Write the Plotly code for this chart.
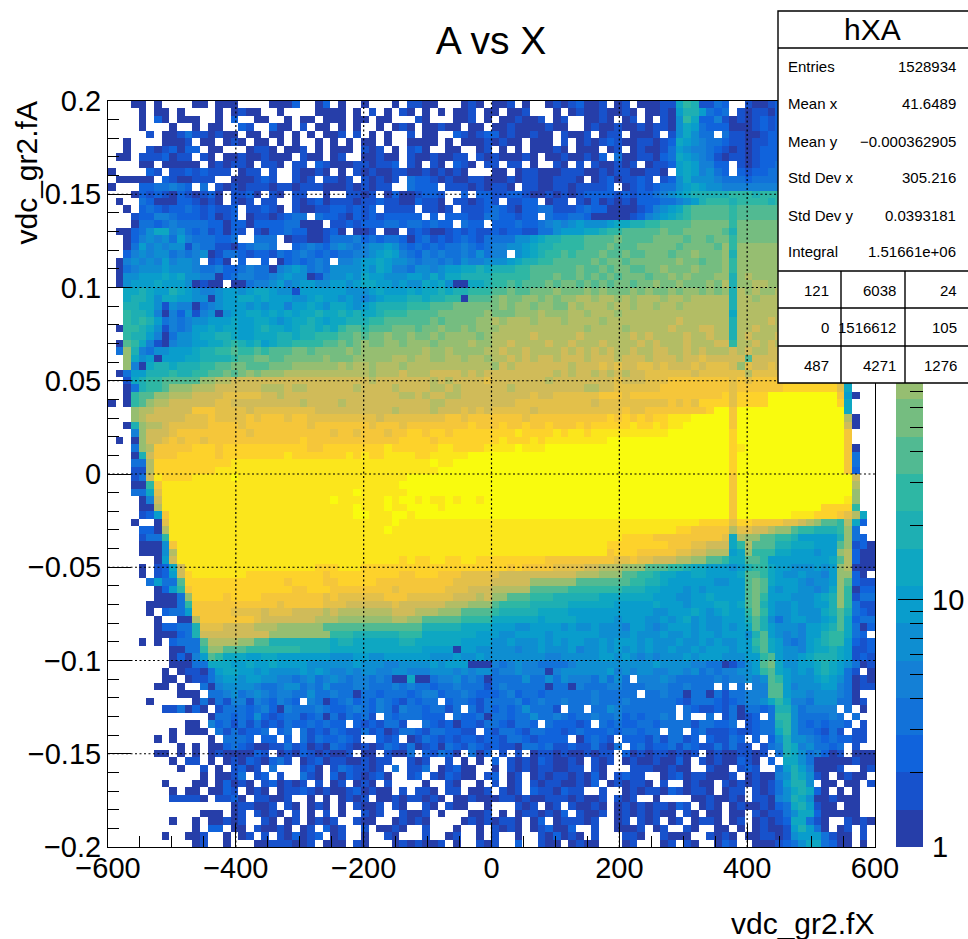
import plotly.graph_objects as go

# ---- data: 100 x 100 bins of hXA, top row first. Each character is a colour
# contour of the log-scale palette; "." is an empty bin.
LEVEL_CHARS = "0123456789a~bcdefghj"
ROWS = [
"...00.0... .00.000... .0002..02. 0..0...0.1 100...010. 001.0..010 12001.01.0 0011798113 2..1001222 2222222222",
"....0.00.0 ....0.0100 ..0....000 0.0.1.0.10 .0.0.001.0 0.001...0. 010010010. 0010688632 3.10110222 2222222222",
"....0.20.0 00..0.2..0 0..0.00.00 0.00.00... 10...001.0 .001001.01 ..0010.01. 0.10597224 1010121222 2222222222",
"....0...0. .0.00..21. .200.1.00. 0.0..0.010 .00100.00. 0010000100 ..01001001 0110576322 2000121222 2222222222",
".....1.001 3110100.00 .00.0.0.00 1.1.0.0..1 .00..21012 20100100.1 001.011.00 01.157533. 3110012222 2222222222",
"..0....000 1.00.010.0 0.0.0..0.0 .0.00.0..0 000.0.0001 0100.000.1 .010121001 1012765433 2110112222 2222222222",
"..0..10120 22.00...01 10.001.0.0 00.101.0.1 20..00..01 .0.0.00010 .000.01.01 0013654432 1010122222 2222222222",
".00.111201 1.10.00100 1000.100.0 1..00100.1 0010011.10 100010.001 00102.3001 1023765431 0110122233 3333333333",
"....00.000 00.010110. 110.11.210 00110112.1 0.10.210.1 1.11.0..10 .1.100101. 0112676442 2.10122333 3333333333",
"0....21.11 212111.011 .1..10010. 0.10100110 0101010... 00.0110001 1100101100 110.676453 2.21223333 4444444444",
".00000.210 0111..0001 21..101.11 01.10101.3 2210100110 0010110011 10.0120112 1.12575554 3332333333 4444444444",
"0...223343 2.3.101011 1011011100 0101011..3 222.111010 110.110011 011112.012 1233567655 4444444444 4444444444",
"...0212102 10120.1120 .10.11..0. .1101.0200 1221..2.22 1122100101 0122221212 2345678888 8999899999 9999999999",
".0..320002 21010.101. 11..101201 1101121100 2110.11012 1.1122.011 .102010102 2233456899 9899998999 9999999999",
"..0.232122 3212112.11 210.100112 21212.1111 .1101.1112 3210223311 1232200001 245679aaaa a9aaaaaaaa aaaaaaaaaa",
"...1224432 2212012.01 101233.322 1021212222 2.2.222113 322122.322 3320000012 456789aaaa a9aaaaaaaa aaaaaaaaaa",
"...0332343 3332202202 22233000.1 1212223323 32322.322. 2223223454 5655567788 99aaaa~~~~ ~9~~~~~~~~ ~~~~~~~~~~",
".002357745 32312021.1 0223220012 0.001.00.1 2100121211 2122113356 6677899aaa aa~aa~~~~~ a8~~~~~~~~ bbbbbbbbbb",
"..02454536 4333223..3 33.0110013 3342323320 2312123213 3335567889 99aaaa~aaa a~~~~a~~a~ ~9~~~~~~~~ bbbbbbbbbb",
"..03645455 1433110234 43..234324 5434556532 3232334323 4455678899 99aaa~aaa~ ~~~~a~~~~a b9bbbbbbbb bbbbbbbbbb",
"..24545534 3450133212 2132343232 3344567643 2434334353 44.567899a 9aaa~aa~aa ~~~a~~b~~~ b8bbbbbbbb bbbbbbbbbb",
".045454645 54.120.2.. 2.0232343. 4456676554 3443435445 55678899aa aaa~a~~a~~ ~~~~b~~a~~ b9bbbbbbbb bbbbbbbbbb",
".034555655 5433422343 3045653435 5556576443 5545667787 88899aaaaa a~aa~a~~aa ~~b~~~b~~~ b9bbbbbbbb bbbbbbbbbb",
".055666767 5544023443 3456550145 5657665556 6575778888 99999aaa~a a~a~a~a~~~ a~~b~b~~~b b8bcbbbbbb bbbbbbbbbb",
".056667666 50100.0034 4564566556 6567766565 5767500778 99a9aaa~a~ ~a~a~a~~a~ ~b~~b~~~b~ c8bbccbbbb bbbbbbbbbb",
"..77876687 6544566567 7655166666 6555676667 6778788999 aa~aa~~~b~ ~~b~b~~~b~ b~~b~bb~b~ b8cbcbbcbb bbbbbbbbbb",
"..78875776 6550566776 7666556766 5654567778 8788990aaa ~b~~bb~b~b bccbccbcbc ccbccbcccc c8ccbccccc cccccccccc",
"..88775154 4034566656 5664667657 7656788889 99aaa~~~~~ ~b~bb~bb~~ cbcccbccbc cbccbccccc c8cccccccc cccccccccc",
"..98874042 5145056677 6767677877 8787789 99a aaa~~~~~~b ~~~bbbcbbb ccbcccbccc cccccccccc c7cccccccc cccccccccc",
"..98986343 4556667667 7656778767 7888 99aaaa aa~a~ ~~~bb cbcccbcccb ccccbccccc ccccdccccc c8ccccdccc cccccccccc",
".099875143 4667677667 8776788787 9aa9aaa~~~ a~~b~~b~bb bccccccccc ccbccccbcc cccdcccddc c8ccdccccc cccccccccc",
"..98864035 5677887667 7788788999 aa~a~ ~b~~b ~~b~bbbb~b ccccc dcccc cdccccccdc dccccdccdc c8cdcccdcc cccccccccc",
".0a9741045 5667789878 6788999 9aa ~a~b~~bb~b bb~bbbbcbb ccdccccdcc dcccdccccd cdcccdcccd d9ccdcdccc cccccccccc",
".3b8435566 6788 99a99a 9aaa~~a~~~ ~b~bbbbbbb bcbbcbbbbc cdccdccccd cdcdcdccdc cddccdcdcc cdcdccddcd dacdcddddd dddddddddd",
"..b7560666 7788889aa~ ~aa~~~~~b~ ~~ bbbbb ccbcc bbccbccbcc dcdcddcddd cdddcdddcd ddcddedddd dadddddedd dddddddddd",
"..b4078878 8899aa~~aa a~~~bbbbbb cbccbcccbc ccccccccccb dcdd dddddc dddededdee dedddedeee dbeddedeee dddddddddd",
".036688898 899aa~a~ b~ bbbccccccccc ccbcccdccc ddddcdcddd ddddddcdcd dcdcdcddee eeeedeeeee eceeeeeefe dddddddddd",
"..17899aaa aabbccdddd dddddddddd ddddcddddd ddcdcdddde dddddddcdd ddddddeddd eeefffffff fefeffffff fffffd7...",
"..03899abb bcccdddddd cccdccdddd ddcddddcdd ddccdcdddd ddcddddddd ddccddeeee eeffffffff feffffffgg ggggge7...",
"..09aabbcc cddddeeeee ddcddddddd ddddddddcc dcddccd ddd dddddeddee eeeefffeff ffffffffff geggggjjjj jjjjjf60..",
"0.09abccdd ddddeedddd dddddcdddd cddddddddd ddccdddddd dddeeeeeee eeedeeeeee eeefefeggg geggggjjjj jjjjjg7...",
"...bccdddd dfffeeeede eeeeeeeddd dddddddcdd ddcdddedede eeeedeee ee eeeeeefee ffffffffgj jfjjjjjjjj jjjjjj7...",
"...bcddddd eeefeeeefe fffeffeeee eeeeedeeee eeeeffefff ffffefffff fffffgfgfg fgghhhjjjj jfjjjjjjjj jjjjjjc0..",
"..08bccdee eeeffffeff ffffffefff ffffefffef fffffffgff fgffgffgff fgfggggghg ghghhjjjjj jfjjjjjjjj jjjjjjd0..",
"...4bdddef ffffffffef fffffffffe ffefffeffg gfggfggggg ggghgggghg hhghhhhhhh hhhjjjjjjj jgjjjjjjjj jjjjjjf...",
".0.0bddefe ffefffffff fffffgffff ffffffffgg ggfggggggg ghggghghhh hhhhhjjjjj jjjjjjjjjj jgjjjjjjjj jjjjjjf...",
"...3bcffff fgggfggggg ggggggffgg gggggghggg ggghhggggh hhhjhhhjjj jjjjjjjjjj jjjjjjjjjj jghjjjjjjj jjjjjjf0..",
"...08dfffg ggggfggggg ggghgggggg ghghgghhhh gghhhhhjjj jjjjjjjjjj jjjjjjjjjj jjjjjjjjjj jgjjjjjjjj jjjjjjf3..",
"...33cgggg gggggghhhh hhhhhhhhhh hhhhhhhhhh hhjhhjjjjj jjjjjjjjjj jjjjjjjjjj jjjjjjjjjj jgjjjjjjjj jjjjjjf3..",
"...11cgggg gggghhhhhh hhhhhhhhhh hhhhhhhhhh hhhjjjjjjj jjjjjjjjjj jjjjjjjjjj jjjjjjjjjj jgjjjjjjjj jjjjjjf2..",
"...13dhggg ghhhhhjhhh hhhhhhhhhh hhhhhhhhhj jjjjjjjjjj jjjjjjjjjj jjjjjjjjjj jjjjjjjjjj jfjjjjjjjj jjjjjjjd..",
"...009fhhh hhhhhhhhhh hhhhhhhhhh hhhhhhhhjj jjjjjjjjjj jjjjjjjjjj jjjjjjjjjj jjjjjjjjjj jfjjjjjjjj jjjjjjjc..",
"...337ehhh hhhhhhhhhh hhhhhhhhhh hhjhhhhhhj jjjjjjjjjj jjjjjjjjjj jjjjjjjjjj jjjjjjjjjj jfjjjjjjjj jjjjjjjb..",
"....04dhhh hhhhhhhhhh hhhhhhhhhj hhhhhhjhjj hjhhjhjjhj jjjjjjjjjj jjjjjjjjjj jjjjjjjjjj jfjjjjjjjj jjjjjjhb..",
"....00chhh hhhhhhhhhh hhhhhhhhhh hhjhhhjhhj jjjhjjjjjj jjjjjjjjjj jjjjjjjjjj jjjjjjjjjj jfjjjjjjjj jjjgggg9..",
"....126fhh hhhhhhhhhh hhhhhhhhhh hhjjhhhjjh jjjjjjjjjj jjjjjjjjjj jjjjjjjjjj jjjjjjjjjj jfjjjjjjjh hhgggfec7.",
"...0..0ehh hhhhhhhhhh hhhhhhhhhh hhhhhhhjhh hhhhhhhhhh hhhhhhhhhh hhhhhhhhhh hhhhhhhggg geggffffee dcbaa9c72.",
"....220chh hhhhhhhhhh hhhhhhhhhh hhhhhhjhhh hhhhhhhhhh hhhhhhhhhh hhhhhhhhhh hhhhggffff fceeddcbba 998889b3..",
"....1339hh hhhhhhhhhh hhhhhhhhhh hhhhhhhhhh hhhhhhhhhh hhhhhhhhhh hhhhhhhggg gfffffffff e7cbbaa998 666668b32.",
"....0005fh hhhhhhhhhh hhhhhhhhhh hhhhhhhhhh hhhhhhhhhh hhhhhhhhhh hhhhhggggg gggfffeedd d79caaa887 77666ab120",
"....0005ch hhhhhhhhhh hhhhhhhhhh hhhhhhhhhh hhhhhhhhhh hhhhhhhhhh hhhhhfgggf ffffeeddcc c67b999776 66566bc200",
"......06dh hhhhhhhhhh hhhhhhhhhh hhhhhhhhgh gghhgghhgg gggggggfff ffffffeefe edddccbbaa 977aa96666 66667ac200",
"....0.127d hhhhhhhhhh hhhhhhhggg hhhggggggg gggggggggg ggfgffffee eeddcccbbb aaa9987766 6568997665 55656bc000",
"....0.126d ghhhhhhhgg ggggggggfg ggggggggff gggfffeeee eddddddddd dcccbbbaa9 9877667766 667aa97655 65546bb20.",
".....3633a gggggggggg gggfggggff gggggfffff fffffeeeee dddddbbbbb baaaaaaa99 8876666665 566a~a7666 54556ba211",
"......0269 fggggggggg ggggffgggf fffffffeff ffffeeeddd cccccaaaaa 9999999888 7766656566 666a~a6566 55457b9022",
"......0003 bggggfgggg ffffffffef eeeeeefffe eeeeedddcd bbaaa99988 8888777777 7666556676 666a~96665 55678b9133",
".....00003 9fffffffff ffefffffee eddddddedd ddddcccbbb a999988888 7777776666 6766656667 767a~86556 55668b9311",
".....0.233 6fffffeeee deeeddddcd cccccccddd cccbbbaaaa 9888887777 6666666666 6556667656 7669~96556 55578a8321",
"......0..0 0cfffffffe dddddddccc bbbbbbbccb baaaaa9999 7777776777 7666665666 5565675655 6668a85356 65567a7233",
"......0223 38eeeddddc ccbbbbbbaa aaaaaaaaaa a888887777 6665566665 6556555466 5456665655 6567a86555 46678a7302",
"......0002 38dddddddd dbbbbbbbb9 9988888899 9777777766 6556666566 6666555565 5565565665 66658a6545 466899732.",
"....0.0.23 33accccbba a888888887 8877777788 7777776666 5565556565 6655656665 6555655656 55669a7643 4678996212",
"........00 339bbaaa99 9999988887 7777777777 7666606655 5554556555 6455656565 6556556566 65668a7655 4677876112",
"........02 046a977766 7766666665 5566556666 6655565565 5555555445 5555665654 5455565666 555669a655 6788876121",
"........00 0337776676 6766665555 5565554455 5565666000 4345443333 4555555555 5655554433 01356a~755 6678765301",
".......0.0 1103677665 6555565654 4545544554 4455545455 3445444045 5555564545 5445545343 4455 69a765 65787631.0",
".......00. 0113566566 5544345345 4344343007 0034453430 3333533535 44435353.4 4454333334 3445 45a965 5567653010",
"......00.0 ..30455554 3345534353 3344333434 3323343331 3433333033 0433344333 444334333. 3.3.44aa64 5556643011",
".........0 00.3345345 4344335334 3303323332 3442334322 2342332333 333433333. 3343303303 1334 44aa65 54555430..",
".....0.... .030314414 32432.4302 3423243213 233.233213 3334234334 3334333433 3333213332 1234457974 435553301.",
".......113 020.133323 4204333432 2343243143 323313.313 232353331. 33.3354333 3333.32112 1303323885 34444.3.0.",
"..........  ...0332325 2123312303 13231.3233 3222.32230 3323353343 2334334232 3343.3..3. 1301 2.3995 333343.3..",
".......... 00.4231313 1213223232 2.2121331. .321202213 321332.322 212.323223 3233331332 23.1233895 3232332.1.",
"........0. 000.313122 3.23.31213 2113120133 21332211.2 1332133221 2322232332 33.33.2311 1211233795 332131.11.",
"......0.0. ...0.3332. 22.2.31322 321..212.0 1321212212 2133212222 .02321.222 1313312.21 132.2.2585 543232211.",
".........0 .0.0023210 0113120103 2101013213 0120321321 2110332311 2113103.23 1223132113 1311.13487 453323.1..",
"......00.0 .0.0100002 1.01021010 01.00.1003 .21320.302 .1.1.01101 001011.201 0110101.01 001101.387 534201.000",
"........0. 11.0.01021 0231.01201 1001011..1 01..1.0.0. 2.10102100 10.101.010 010020.101 00210.2.77 5300000100",
".........0 ..1.0.1201 .3...120.1 321101.3.1 13.01200.. 0.10101100 11.10...11 100100..10 0.121..368 640001..01",
".......... ..0.0013.1 2.1..310.2 0210120..1 2.102100.1 2.01.01011 01020.1211 ..01201100 01.0100458 7510.0100.",
".......0.. .00.02010. 120101.1.0 1.010.1... .0..10..0. 1.01.10110 0102.01011 0.1..0100. 1010101368 85.00.00.1",
"........0. 00.0021.01 0.01121010 0120100.1. 110.11.001 .101.21102 11..1..010 110210110. 011.101357 8720.0.0..",
"........11 110.1120.1 1001..0.0. 0101.00101 1010.00100 0110100111 01001.101. .0....0010 010.110458 75001000..",
".......... ......0110 01.10.010. 0.1001.10. .10.100..0 ...101.01. 10010.0101 011021.010 .010010237 86100.00..",
".......... ..000.01.1 010.1.0.1. 0..101..10 01.0...001 .0.0110102 .1001.0101 0100.10.00 .00.101135 77200000..",
"........0. .0.00101.. 10.01.0101 ..100..010 10....0101 0110.02.01 1101..01.1 01.01.0110 .01.010127 7310..1010",
".......... .0.22.00.1 0010.01.20 1..1.0010. .1...0..0. 1010.01200 2..1..0001 .01..10..0 0.0.010016 8630.01.1.",
".......0.. 001..0.01. 1.102012.0 1..0..10.. .1..01..0. 1..0..1020 10.1...110 ..1000..10 10.0011015 6663100.1.",
".......... .01..0...0 0111001.00 0.10...010 1001.0..10 1..2..100. 0100...01. ..01.10..0 21..000123 5773200.0.",
]

X_TICKS = [-600, -400, -200, 0, 200, 400, 600]
X_LABELS = ["\u2212600", "\u2212400", "\u2212200", "0", "200", "400", "600"]
Y_TICKS = [-0.2, -0.15, -0.1, -0.05, 0, 0.05, 0.1, 0.15, 0.2]
Y_LABELS = ["\u22120.2", "\u22120.15", "\u22120.1", "\u22120.05", "0", "0.05", "0.1", "0.15", "0.2"]
X_GRID = [-400, -200, 0, 200, 400]
Y_GRID = [-0.15, -0.1, -0.05, 0, 0.05, 0.1, 0.15]
Z_TICKS = [1, 10]
Z_LABELS = ["1", "10"]
STATS_NAMES = ["Entries", "Mean x", "Mean y", "Std Dev x", "Std Dev y", "Integral"]
STATS_VALUES = ["1528934", "41.6489", "\u22120.000362905", "305.216", "0.0393181", "1.51661e+06"]
CORNER_TABLE = [["121", "6038", "24"], ["0", "1516612", "105"], ["487", "4271", "1276"]]

# kBird palette stops of ROOT
BIRD_R = [0.2082, 0.0592, 0.0780, 0.0232, 0.1802, 0.5301, 0.8186, 0.9956, 0.9764]
BIRD_G = [0.1664, 0.3599, 0.5041, 0.6419, 0.7178, 0.7492, 0.7328, 0.7862, 0.9832]
BIRD_B = [0.5293, 0.8684, 0.8385, 0.7914, 0.6425, 0.4662, 0.3499, 0.1968, 0.0539]
N_LEVELS = 20
LOG_MAX = 3.02

W, H = 968, 939
L, R, T, B = 108, 875, 101, 847


def bird(f):
    p = min(f, 1.0) * 8
    i = min(int(p), 7)
    t = p - i
    ch = [a[i] + (a[i + 1] - a[i]) * t for a in (BIRD_R, BIRD_G, BIRD_B)]
    return "rgb(%d,%d,%d)" % tuple(round(255 * c) for c in ch)


colors = [bird((i + 0.99) / N_LEVELS) for i in range(N_LEVELS)]
colorscale = []
for i, c in enumerate(colors):
    colorscale += [[i / N_LEVELS, c], [(i + 1) / N_LEVELS, c]]

step = LOG_MAX / N_LEVELS
z = []
for row in reversed(ROWS):
    cells = row.replace(" ", "").ljust(100, ".")[:100]
    z.append([None if ch == "." else (LEVEL_CHARS.index(ch) + 0.5) * step for ch in cells])

fig = go.Figure()
fig.add_trace(go.Heatmap(
    z=z, x0=-594, dx=12, y0=-0.198, dy=0.004,
    zmin=0, zmax=LOG_MAX, colorscale=colorscale, hoverongaps=False, showscale=False,
))
# colour scale drawn as its own one-column histogram on a log axis
fig.add_trace(go.Heatmap(
    z=[[(i + 0.5) * step] for i in range(N_LEVELS)],
    x=[0, 1], y=[10 ** (i * step) for i in range(N_LEVELS + 1)],
    zmin=0, zmax=LOG_MAX, colorscale=colorscale, showscale=False,
    xaxis="x2", yaxis="y2", hoverinfo="skip",
))

font = "Liberation Sans"
minor_z = [m * 10 ** d for d in range(3) for m in range(2, 10)]
fig.update_layout(
    width=W, height=H, margin=dict(l=0, r=0, t=0, b=0, autoexpand=False),
    paper_bgcolor="white", plot_bgcolor="white", showlegend=False,
    font=dict(family=font, color="black", size=29),
    title=dict(text="A vs X", x=491 / W, xanchor="center", y=1 - 40 / H, yanchor="middle",
               font=dict(size=39, family=font, color="black")),
    xaxis=dict(
        automargin=False,
        domain=[L / W, R / W], range=[-600, 600], tickmode="array",
        tickvals=X_TICKS, ticktext=X_LABELS, ticks="inside", ticklen=23, tickwidth=1,
        tickcolor="black", showline=True, linecolor="black", linewidth=1, mirror=True,
        showgrid=False, zeroline=False, tickangle=0, ticklabelstandoff=-5,
        minor=dict(tickmode="linear", tick0=-600, dtick=50, ticks="inside", ticklen=11,
                   tickcolor="black", tickwidth=1, showgrid=False),
    ),
    yaxis=dict(
        automargin=False,
        domain=[(H - B) / H, (H - T) / H], range=[-0.2, 0.2], tickmode="array",
        tickvals=Y_TICKS, ticktext=Y_LABELS, ticks="inside", ticklen=23, tickwidth=1,
        tickcolor="black", showline=True, linecolor="black", linewidth=1, mirror=True,
        showgrid=False, zeroline=False,
        minor=dict(tickmode="linear", tick0=-0.2, dtick=0.01, ticks="inside", ticklen=11,
                   tickcolor="black", tickwidth=1, showgrid=False),
    ),
    xaxis2=dict(automargin=False, domain=[896 / W, 923 / W], range=[0, 1], visible=False, anchor="y2"),
    yaxis2=dict(
        automargin=False,
        domain=[(H - B) / H, (H - T) / H], side="right", anchor="x2", type="log",
        range=[0, LOG_MAX], tickmode="array", tickvals=Z_TICKS, ticktext=Z_LABELS,
        ticks="inside", ticklen=25, tickwidth=1, tickcolor="black", showgrid=False,
        showline=False, zeroline=False, ticklabelstandoff=8,
        minor=dict(tickmode="array", tickvals=minor_z, ticks="inside", ticklen=13,
                   tickcolor="black", tickwidth=1, showgrid=False),
    ),
)

shapes = []
for xv in X_GRID:
    shapes.append(dict(type="line", xref="x", yref="y", x0=xv, x1=xv, y0=-0.2, y1=0.2,
                       line=dict(color="black", width=1.2, dash="2px,2.5px")))
for yv in Y_GRID:
    shapes.append(dict(type="line", xref="x", yref="y", x0=-600, x1=600, y0=yv, y1=yv,
                       line=dict(color="black", width=1.2, dash="2px,2.5px")))

# statistics box (paper-pixel layout)
BOX_L, BOX_R, BOX_T, BOX_B = 778, 969, 11, 383
def px(x): return x / W
def py(y): return 1 - y / H
box_line = dict(color="black", width=1.4)
shapes.append(dict(type="rect", xref="paper", yref="paper", x0=px(BOX_L), x1=px(BOX_R),
                   y0=py(BOX_B), y1=py(BOX_T), fillcolor="white", line=box_line))
for yy in (48, 271, 308, 346):
    shapes.append(dict(type="line", xref="paper", yref="paper", x0=px(BOX_L), x1=px(BOX_R),
                       y0=py(yy), y1=py(yy), line=box_line))
for xx in (841, 905):
    shapes.append(dict(type="line", xref="paper", yref="paper", x0=px(xx), x1=px(xx),
                       y0=py(271), y1=py(BOX_B), line=box_line))

ann = []
def text(s, x, y, size, xanchor="center", yanchor="middle"):
    ann.append(dict(text=s, x=px(x), y=py(y), xref="paper", yref="paper", showarrow=False,
                    xanchor=xanchor, yanchor=yanchor, borderpad=0,
                    font=dict(size=size, family=font, color="black")))

text("hXA", 872, 30, 30)
for s, v, yy in zip(STATS_NAMES, STATS_VALUES, (66, 104, 141, 178, 215, 252)):
    text(s, 787, yy, 15, "left")
    text(v, 957, yy, 15, "right")
for row, yy in zip(CORNER_TABLE, (290, 327, 365)):
    for s, xx in zip(row, (830, 897, 958)):
        text(s, xx, yy, 15, "right")
text("vdc_gr2.fX", 875, 923, 30, "right")
ann.append(dict(text="vdc_gr2.fA", x=px(26), y=py(100), xref="paper", yref="paper", showarrow=False,
                textangle=-90, xanchor="center", yanchor="top",
                font=dict(size=30, family=font, color="black")))

fig.update_layout(shapes=shapes, annotations=ann)
fig.write_html("out.html", config=dict(displayModeBar=False),
               post_script="document.body.style.margin='0';document.body.style.overflow='hidden';")
